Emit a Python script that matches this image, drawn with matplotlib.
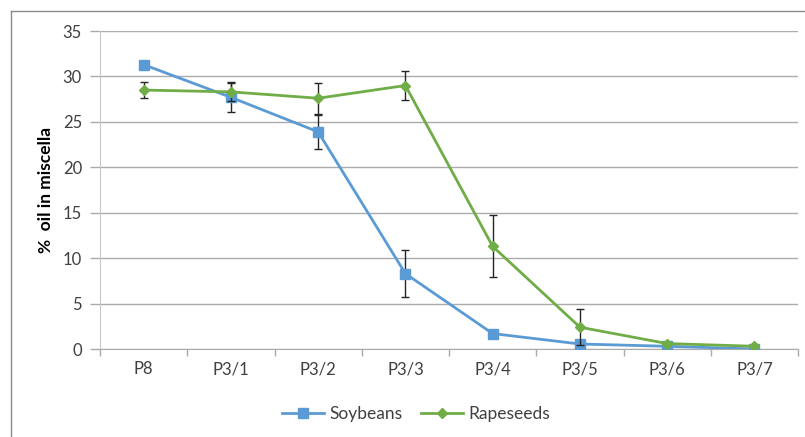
import numpy as np
import matplotlib
matplotlib.use('Agg')
from matplotlib import pyplot as plt
from matplotlib.lines import Line2D

# data
stages = ["P8", "P3/1", "P3/2", "P3/3", "P3/4", "P3/5", "P3/6", "P3/7"]
soybeans = [31.3, 27.7, 23.9, 8.3, 1.7, 0.55, 0.3, 0.0]
soybeans_err = [0.0, 1.6, 1.9, 2.55, 0.0, 0.0, 0.0, 0.0]
rapeseeds = [28.5, 28.3, 27.6, 29.0, 11.3, 2.4, 0.6, 0.3]
rapeseeds_err = [0.85, 1.05, 1.7, 1.55, 3.4, 2.0, 0.0, 0.0]

plt.rcParams['font.family'] = ['Lato', 'DejaVu Sans']

fig = plt.figure(figsize=(8.05, 4.37), dpi=100)
ax = fig.add_axes([100 / 805, 1 - 349 / 437, 698 / 805, 318 / 437])

x = np.arange(len(stages))
blue = '#5B9BD5'
green = '#70AD47'
grid_c = '#ABABAB'
txt_c = '#404040'

ax.errorbar(x, soybeans, yerr=soybeans_err, color=blue, lw=2.0, marker='s',
            markersize=6.5, ecolor='#262626', elinewidth=1.0, capsize=3,
            capthick=1.0, zorder=3)
ax.errorbar(x, rapeseeds, yerr=rapeseeds_err, color=green, lw=2.0, marker='D',
            markersize=5.5, ecolor='#262626', elinewidth=1.0, capsize=3,
            capthick=1.0, zorder=4)

ax.set_xlim(-0.5, len(stages) - 0.5)
ax.set_ylim(0, 35)
ax.set_yticks(np.arange(0, 36, 5))
ax.yaxis.grid(True, color=grid_c, lw=1.0)
ax.set_axisbelow(True)

# category ticks between labels, like Excel
ax.set_xticks(np.arange(-0.5, len(stages), 1.0))
ax.set_xticklabels([])
ax.set_xticks(x, minor=True)
ax.set_xticklabels(stages, minor=True)
ax.tick_params(axis='x', which='minor', length=0, pad=9, labelsize=12, colors=txt_c)
ax.tick_params(axis='x', which='major', length=5, color=grid_c, width=1.0)
ax.tick_params(axis='y', length=7, color=grid_c, width=1.0, labelsize=12,
               colors=txt_c, pad=6)

for side in ['top', 'right']:
    ax.spines[side].set_visible(False)
ax.spines['left'].set_color('#C8C8C8')
ax.spines['bottom'].set_color(grid_c)

ax.set_ylabel('%  oil in miscella', fontsize=12.5, fontweight='bold', labelpad=6)

handles = [Line2D([], [], color=blue, lw=2.0, marker='s', markersize=6.5),
           Line2D([], [], color=green, lw=2.0, marker='D', markersize=5.5)]
leg = fig.legend(handles, ['Soybeans', 'Rapeseeds'], loc='center',
                 bbox_to_anchor=(0.517, 0.052), ncol=2, frameon=False,
                 fontsize=12.5, handlelength=2.4, columnspacing=1.1, handletextpad=0.3)
for t in leg.get_texts():
    t.set_color(txt_c)

# outer chart border (partially visible)
fig.add_artist(Line2D([10.5 / 805, 10.5 / 805], [0, 1 - 10.5 / 437],
                      transform=fig.transFigure, color='#8C8C8C', lw=1.0))
fig.add_artist(Line2D([10.5 / 805, 1], [1 - 10.5 / 437, 1 - 10.5 / 437],
                      transform=fig.transFigure, color='#8C8C8C', lw=1.0))

fig.savefig('out.png', dpi=100)
